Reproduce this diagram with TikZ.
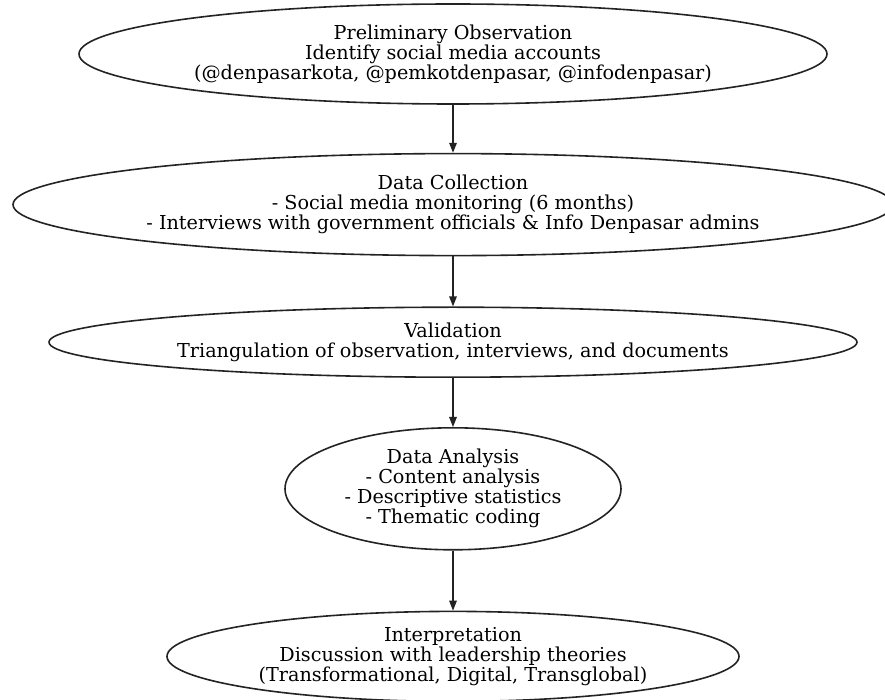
\documentclass[tikz,border=0pt]{standalone}
\usepackage{fontspec}
\setmainfont{DejaVu Serif}
\usetikzlibrary{positioning, arrows.meta, shapes.geometric}
\definecolor{inkgray}{RGB}{35,35,35}
\tikzset{
  stagebox/.style = {ellipse, draw=inkgray, line width=0.8pt, inner sep=0pt,
                     align=center, font=\fontsize{9.6}{10}\selectfont},
  flowarr/.style  = {-{Triangle[length=5pt, width=3.8pt]}, line width=0.65pt, inkgray},
}

\begin{document}
\begin{tikzpicture}[x=0.5pt, y=-0.5pt]
  \useasboundingbox (0,0) rectangle (885,700);
  \node[stagebox, minimum width=374pt, minimum height=50pt] (obs) at (453,54)
    {Preliminary Observation\\Identify social media accounts\\(@denpasarkota, @pemkotdenpasar, @infodenpasar)};
  \node[stagebox, minimum width=440pt, minimum height=51pt, below=24pt of obs] (collect)
    {Data Collection\\- Social media monitoring (6 months)\\- Interviews with government officials \& Info Denpasar admins};
  \node[stagebox, minimum width=404pt, minimum height=35pt, below=25pt of collect] (valid)
    {Validation\\Triangulation of observation, interviews, and documents};
  \node[stagebox, minimum width=168pt, minimum height=61pt, below=24.5pt of valid] (analysis)
    {Data Analysis\\- Content analysis\\- Descriptive statistics\\- Thematic coding};
  \node[stagebox, minimum width=286pt, minimum height=45pt, below=30pt of analysis] (interp)
    {Interpretation\\Discussion with leadership theories\\(Transformational, Digital, Transglobal)};
  \draw[flowarr] (obs) -- (collect);
  \draw[flowarr] (collect) -- (valid);
  \draw[flowarr] (valid) -- (analysis);
  \draw[flowarr] (analysis) -- (interp);
\end{tikzpicture}
\end{document}
